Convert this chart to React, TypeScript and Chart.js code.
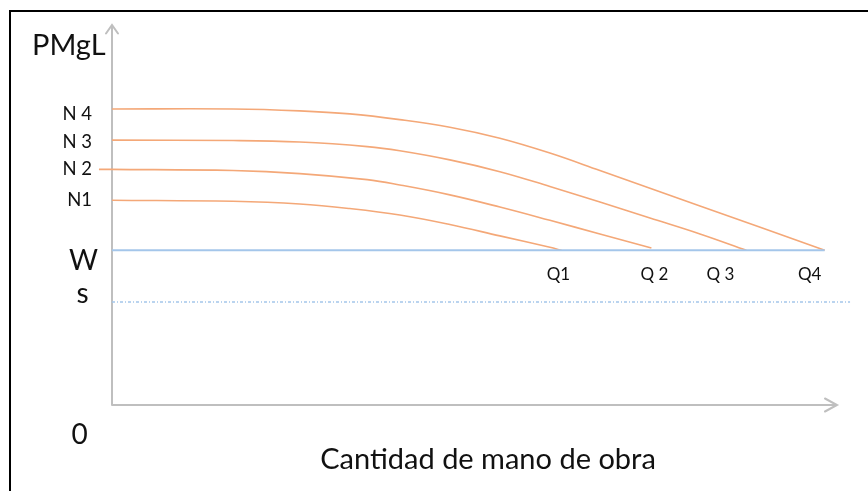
import React, { useEffect, useRef } from 'react';
import { Chart, registerables } from 'chart.js';

Chart.register(...registerables);

// Levels (value of marginal product) and axis names
const yAxisName = 'PMgL';
const xAxisName = 'Cantidad de mano de obra';
const originLabel = '0';
const wageLabel = 'W';
const sLabel = 's';
const wLevel = 40.7;
const sLevel = 27.1;
const wEndX = 98.3;
const sEndX = 101.8;

const nNames = ['N1', 'N 2', 'N 3', 'N 4'];
const qNames = ['Q1', 'Q 2', 'Q 3', 'Q4'];

// Marginal product curves (x = labour, y = PMgL)
const n1X = [0, 16.7, 25.9, 32.8, 39.7, 46.6, 53.5, 60.4, 62.0];
const n1Y = [53.9, 53.6, 52.9, 51.7, 50.0, 47.5, 44.5, 41.5, 40.7];
const n2X = [-1.8, 0, 16.7, 25.9, 35.2, 39.7, 46.6, 53.5, 60.4, 67.3, 74.4];
const n2Y = [62.0, 62.0, 61.7, 60.9, 59.3, 57.9, 55.3, 52.1, 48.6, 45.0, 41.3];
const n3X = [0, 16.7, 25.9, 35.2, 39.7, 46.6, 53.5, 60.4, 67.3, 74.2, 81.1, 87.5];
const n3Y = [69.7, 69.6, 69.2, 68.0, 66.9, 64.5, 61.4, 57.5, 53.4, 49.2, 45.0, 40.7];
const n4X = [0, 16.7, 25.9, 32.8, 39.7, 46.6, 53.5, 60.4, 67.3, 81.1, 98.3];
const n4Y = [77.9, 77.9, 77.4, 76.6, 75.1, 73.1, 70.2, 66.3, 61.7, 52.4, 40.7];

const curvesX = [n1X, n2X, n3X, n4X];
const curvesY = [n1Y, n2Y, n3Y, n4Y];

const ORANGE = '#F4A878';
const BLUE = '#A4C6EA';
const AXIS = '#BFBFBF';
const FONT = 'Lato, "Open Sans", sans-serif';

const pts = (xs: number[], ys: number[]) => xs.map((x, i) => ({ x, y: ys[i] }));

const diagramPlugin = {
  id: 'diagram',
  beforeDatasetsDraw(chart: any) {
    const { ctx, scales } = chart;
    const xs = scales.x;
    const ys = scales.y;
    const x0 = xs.getPixelForValue(0);
    const y0 = ys.getPixelForValue(0);
    const yTop = ys.getPixelForValue(100);
    const xEnd = xs.getPixelForValue(100);
    ctx.save();
    ctx.strokeStyle = AXIS;
    ctx.lineWidth = 2;
    ctx.lineCap = 'round';
    ctx.beginPath();
    ctx.moveTo(x0, y0);
    ctx.lineTo(x0, yTop);
    ctx.moveTo(x0 - 6, yTop + 8.5);
    ctx.lineTo(x0, yTop);
    ctx.lineTo(x0 + 6, yTop + 8.5);
    ctx.moveTo(x0, y0);
    ctx.lineTo(xEnd, y0);
    ctx.moveTo(xEnd - 12, y0 - 6.5);
    ctx.lineTo(xEnd, y0);
    ctx.lineTo(xEnd - 12, y0 + 6.5);
    ctx.stroke();
    ctx.restore();
  },
  afterDraw(chart: any) {
    const { ctx, scales } = chart;
    const xs = scales.x;
    const ys = scales.y;
    const x0 = xs.getPixelForValue(0);
    const y0 = ys.getPixelForValue(0);
    ctx.save();
    ctx.fillStyle = '#111';
    // axis name
    ctx.font = `29px ${FONT}`;
    ctx.textAlign = 'left';
    ctx.textBaseline = 'alphabetic';
    ctx.fillText(yAxisName, x0 - 80, ys.getPixelForValue(100) + 30);
    // N labels
    ctx.font = `18.5px ${FONT}`;
    ctx.textAlign = 'right';
    ctx.textBaseline = 'middle';
    const nOff = [0, 0, 1.5, 5.5];
    curvesY.forEach((cy, i) => {
      const start = curvesX[i].findIndex((v) => v >= 0);
      const yy = ys.getPixelForValue(cy[start]);
      ctx.fillText(nNames[i], x0 - 20, yy + nOff[i]);
    });
    // W, s and origin
    ctx.textAlign = 'center';
    ctx.textBaseline = 'alphabetic';
    ctx.font = `28px ${FONT}`;
    ctx.fillText(wageLabel, x0 - 28.5, ys.getPixelForValue(wLevel) + 19.5);
    ctx.fillText(sLabel, x0 - 29.5, ys.getPixelForValue(sLevel) + 1);
    ctx.fillText(originLabel, x0 - 32.5, y0 + 38.5);
    // Q labels
    ctx.font = `17px ${FONT}`;
    const qOff = [-3, 3, -26, -15];
    curvesX.forEach((cx, i) => {
      const px = xs.getPixelForValue(cx[cx.length - 1]);
      ctx.fillText(qNames[i], px + qOff[i], ys.getPixelForValue(wLevel) + 29.5);
    });
    // x axis name
    ctx.font = `29px ${FONT}`;
    ctx.fillText(xAxisName, (x0 + xs.getPixelForValue(100)) / 2 + 13.5, y0 + 64);
    ctx.restore();
  },
};

export default function App() {
  const ref = useRef<HTMLCanvasElement | null>(null);
  useEffect(() => {
    if (!ref.current) return;
    const curveSets = curvesX.map((cx, i) => ({
      label: nNames[i],
      data: pts(cx, curvesY[i]),
      showLine: true,
      borderColor: ORANGE,
      borderWidth: 1.6,
      pointRadius: 0,
      tension: 0.4,
      clip: false as any,
    }));
    const chart = new Chart(ref.current, {
      type: 'scatter',
      data: {
        datasets: [
          {
            label: wageLabel,
            data: [{ x: 0, y: wLevel }, { x: wEndX, y: wLevel }],
            showLine: true,
            borderColor: BLUE,
            borderWidth: 2,
            pointRadius: 0,
            clip: false as any,
          },
          {
            label: sLabel,
            data: [{ x: 0, y: sLevel }, { x: sEndX, y: sLevel }],
            showLine: true,
            borderColor: BLUE,
            borderWidth: 1.4,
            borderDash: [3, 2, 1, 2],
            pointRadius: 0,
            clip: false as any,
          },
          ...curveSets,
        ],
      },
      options: {
        animation: false,
        responsive: false,
        layout: { padding: { left: 112, top: 25, right: 31, bottom: 86 } },
        plugins: { legend: { display: false }, tooltip: { enabled: false } },
        events: [],
        scales: {
          x: { type: 'linear', min: 0, max: 100, display: false },
          y: { type: 'linear', min: 0, max: 100, display: false },
        },
      },
      plugins: [diagramPlugin],
    });
    return () => chart.destroy();
  }, []);
  return (
    <div style={{ position: 'fixed', left: 0, top: 0, width: 868, height: 491, background: '#fff', overflow: 'hidden' }}>
      <canvas ref={ref} width={868} height={491} style={{ position: 'absolute', left: 0, top: 0 }} />
      <div
        style={{
          position: 'absolute',
          left: 9,
          top: 10,
          width: 900,
          height: 520,
          borderLeft: '2px solid #000',
          borderTop: '2px solid #000',
          pointerEvents: 'none',
        }}
      />
    </div>
  );
}
